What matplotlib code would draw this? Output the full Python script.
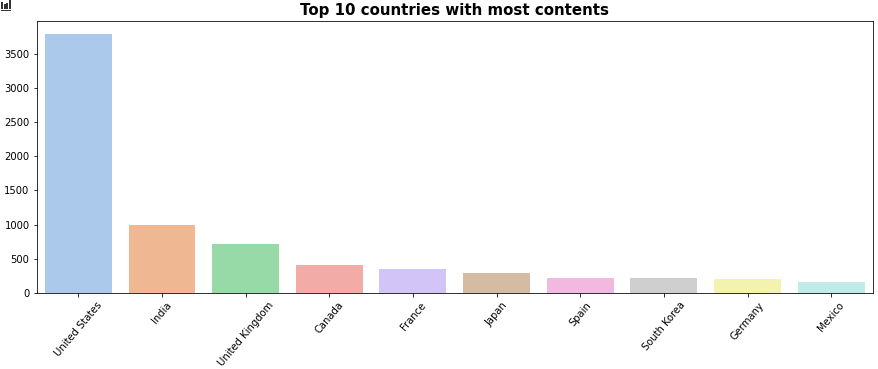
import matplotlib
matplotlib.use("Agg")
import matplotlib.pyplot as plt
from matplotlib.patches import Rectangle
import seaborn as sns

countries = ["United States", "India", "United Kingdom", "Canada", "France",
             "Japan", "Spain", "South Korea", "Germany", "Mexico"]
counts = [3790, 1000, 722, 412, 350, 290, 225, 220, 200, 165]

W, H = 878, 369
fig = plt.figure(figsize=(W / 72, H / 72), dpi=72)
ax = fig.add_axes([36.5 / W, 1 - 293 / H, (873 - 36.5) / W, (293 - 21) / H])

# same pastel palette as seaborn default
sns.barplot(x=countries, y=counts, hue=countries, palette="pastel", legend=False, ax=ax)
ax.set_ylim(0, 3980)
ax.set_yticks(range(0, 4000, 500))
ax.tick_params(labelsize=10)
ax.tick_params(axis="x", rotation=50)
ax.set_xlabel("")
ax.set_ylabel("")
ax.set_title("Top 10 countries with most contents", fontsize=15, fontweight="bold", pad=6)

# little bar chart icon top left, the emoji is in none of the fonts
icon_color = "#333333"
for x0, y0, w, h in [(1, 2, 2, 7), (4, 4, 2, 5), (6, 3, 2, 6), (9, 0, 2, 9), (1, 10, 10, 1)]:
    fig.add_artist(Rectangle((x0 / W, 1 - (y0 + h) / H), w / W, h / H,
                             transform=fig.transFigure, color=icon_color, lw=0))

fig.savefig("out.png", dpi=72)
